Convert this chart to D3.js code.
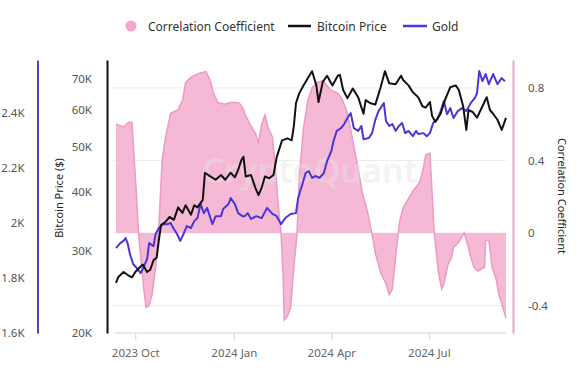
<!DOCTYPE html>
<html>
<head>
<meta charset="utf-8">
<script src="https://cdn.jsdelivr.net/npm/d3@7"></script>
<style>
  html, body { margin: 0; padding: 0; background: #fff; }
  svg { display: block; font-family: "Noto Sans", "Open Sans", sans-serif; }
</style>
</head>
<body>
<svg id="chart" width="581" height="380"></svg>
<script>
// ---------------- data ----------------
const correlation = [
  ["2023-09-13",0.60],["2023-09-20",0.585],["2023-09-25",0.61],["2023-09-28",0.61],["2023-09-29",0.50],
  ["2023-10-02",0.22],["2023-10-04",0.0],["2023-10-07",-0.19],["2023-10-09",-0.31],["2023-10-11",-0.41],
  ["2023-10-14",-0.40],["2023-10-17",-0.33],["2023-10-20",-0.19],["2023-10-23",0.03],["2023-10-26",0.40],
  ["2023-10-29",0.52],["2023-11-03",0.66],["2023-11-10",0.68],["2023-11-14",0.73],["2023-11-17",0.83],
  ["2023-11-22",0.86],["2023-11-29",0.88],["2023-12-06",0.89],["2023-12-10",0.84],["2023-12-13",0.77],
  ["2023-12-17",0.72],["2023-12-23",0.71],["2023-12-29",0.72],["2024-01-05",0.72],["2024-01-07",0.71],
  ["2024-01-10",0.68],["2024-01-11",0.66],["2024-01-16",0.60],["2024-01-21",0.55],["2024-01-24",0.50],
  ["2024-01-27",0.60],["2024-01-30",0.65],["2024-02-02",0.58],["2024-02-06",0.53],["2024-02-09",0.35],
  ["2024-02-11",0.18],["2024-02-14",0.0],["2024-02-16",-0.24],["2024-02-17",-0.48],["2024-02-20",-0.46],
  ["2024-02-23",-0.41],["2024-02-26",-0.19],["2024-02-29",0.0],["2024-03-02",0.31],["2024-03-06",0.58],
  ["2024-03-10",0.73],["2024-03-14",0.80],["2024-03-19",0.83],["2024-03-24",0.84],["2024-03-27",0.82],
  ["2024-03-31",0.79],["2024-04-07",0.77],["2024-04-11",0.74],["2024-04-16",0.66],["2024-04-21",0.51],
  ["2024-04-26",0.35],["2024-04-30",0.22],["2024-05-05",0.11],["2024-05-08",0.02],["2024-05-10",-0.04],
  ["2024-05-12",-0.11],["2024-05-17",-0.22],["2024-05-22",-0.28],["2024-05-25",-0.34],["2024-05-28",-0.31],
  ["2024-05-30",-0.19],["2024-06-02",-0.02],["2024-06-04",0.07],["2024-06-07",0.14],["2024-06-11",0.18],
  ["2024-06-16",0.23],["2024-06-20",0.26],["2024-06-23",0.29],["2024-06-26",0.36],["2024-06-28",0.43],
  ["2024-07-02",0.44],["2024-07-04",0.22],["2024-07-06",0.0],["2024-07-08",-0.11],["2024-07-10",-0.22],
  ["2024-07-13",-0.31],["2024-07-15",-0.28],["2024-07-19",-0.17],["2024-07-22",-0.14],["2024-07-24",-0.08],
  ["2024-07-29",-0.05],["2024-08-03",0.0],["2024-08-06",-0.06],["2024-08-09",-0.13],["2024-08-12",-0.19],
  ["2024-08-16",-0.21],["2024-08-19",-0.20],["2024-08-22",-0.19],["2024-08-23",-0.04],["2024-08-26",-0.04],
  ["2024-08-29",-0.19],["2024-09-02",-0.26],["2024-09-04",-0.33],["2024-09-08",-0.41],["2024-09-11",-0.47]
];

const bitcoinPrice = [
  ["2023-09-13",25600],["2023-09-15",26300],["2023-09-20",27000],["2023-09-24",26600],["2023-09-28",26300],
  ["2023-10-01",27000],["2023-10-05",27600],["2023-10-08",28000],["2023-10-12",27000],["2023-10-15",27300],
  ["2023-10-18",28600],["2023-10-21",29000],["2023-10-23",31600],["2023-10-25",34000],["2023-10-29",34500],
  ["2023-11-02",35400],["2023-11-06",34900],["2023-11-10",37100],["2023-11-14",36100],["2023-11-17",37500],
  ["2023-11-22",35800],["2023-11-25",37500],["2023-11-28",37100],["2023-12-03",38500],["2023-12-05",44000],
  ["2023-12-10",43200],["2023-12-15",42500],["2023-12-20",43500],["2023-12-24",42500],["2023-12-29",44000],
  ["2024-01-02",43000],["2024-01-05",44600],["2024-01-08",46800],["2024-01-10",47600],["2024-01-12",43200],
  ["2024-01-17",43500],["2024-01-21",40900],["2024-01-24",39400],["2024-01-27",40900],["2024-01-30",43200],
  ["2024-02-03",42800],["2024-02-07",43500],["2024-02-10",47500],["2024-02-15",51600],["2024-02-20",52100],
  ["2024-02-24",51600],["2024-02-26",55400],["2024-02-28",62000],["2024-03-02",65000],["2024-03-06",67600],
  ["2024-03-10",70000],["2024-03-14",72500],["2024-03-16",70000],["2024-03-18",67600],["2024-03-20",62300],
  ["2024-03-24",68800],["2024-03-28",70900],["2024-04-02",67600],["2024-04-07",70900],["2024-04-09",71200],
  ["2024-04-12",66100],["2024-04-16",63500],["2024-04-21",66600],["2024-04-26",63800],["2024-05-01",58800],
  ["2024-05-03",62900],["2024-05-07",62000],["2024-05-12",61500],["2024-05-17",67000],["2024-05-21",72500],
  ["2024-05-25",68300],["2024-05-31",68000],["2024-06-05",70900],["2024-06-07",69400],["2024-06-12",67600],
  ["2024-06-16",65400],["2024-06-21",63800],["2024-06-25",61000],["2024-06-28",60600],["2024-07-02",62300],
  ["2024-07-04",58200],["2024-07-07",56500],["2024-07-12",58800],["2024-07-16",62900],["2024-07-21",67000],
  ["2024-07-26",67600],["2024-07-29",66100],["2024-08-02",61000],["2024-08-05",54300],["2024-08-07",59900],
  ["2024-08-11",59300],["2024-08-15",57700],["2024-08-20",61000],["2024-08-24",63800],["2024-08-27",59900],
  ["2024-08-30",58800],["2024-09-03",57100],["2024-09-07",54300],["2024-09-11",57600]
];

const goldPrice = [
  ["2023-09-13",1909],["2023-09-17",1927],["2023-09-20",1935],["2023-09-22",1945],["2023-09-24",1924],
  ["2023-09-26",1887],["2023-09-29",1851],["2023-10-03",1833],["2023-10-06",1818],["2023-10-08",1833],
  ["2023-10-12",1869],["2023-10-14",1927],["2023-10-18",1916],["2023-10-20",1960],["2023-10-23",1982],
  ["2023-10-27",1996],["2023-10-31",1996],["2023-11-03",2000],["2023-11-06",1978],["2023-11-09",1960],
  ["2023-11-12",1935],["2023-11-15",1960],["2023-11-18",1989],["2023-11-22",1982],["2023-11-25",2007],
  ["2023-11-28",2018],["2023-12-01",2069],["2023-12-04",2036],["2023-12-07",2055],["2023-12-12",1996],
  ["2023-12-15",2025],["2023-12-20",2025],["2023-12-22",2051],["2023-12-27",2069],["2023-12-29",2091],
  ["2024-01-02",2069],["2024-01-05",2036],["2024-01-09",2025],["2024-01-11",2025],["2024-01-14",2036],
  ["2024-01-17",2015],["2024-01-22",2025],["2024-01-27",2018],["2024-02-01",2055],["2024-02-06",2033],
  ["2024-02-10",2025],["2024-02-14",1996],["2024-02-18",2018],["2024-02-23",2033],["2024-02-28",2036],
  ["2024-03-01",2091],["2024-03-05",2142],["2024-03-08",2182],["2024-03-11",2189],["2024-03-14",2164],
  ["2024-03-17",2171],["2024-03-21",2164],["2024-03-25",2182],["2024-03-28",2225],["2024-04-01",2262],
  ["2024-04-03",2298],["2024-04-06",2335],["2024-04-10",2345],["2024-04-13",2360],["2024-04-16",2382],
  ["2024-04-19",2400],["2024-04-22",2345],["2024-04-26",2335],["2024-04-29",2353],["2024-05-01",2305],
  ["2024-05-06",2309],["2024-05-09",2327],["2024-05-12",2375],["2024-05-15",2407],["2024-05-20",2436],
  ["2024-05-22",2371],["2024-05-25",2353],["2024-05-28",2360],["2024-05-31",2335],["2024-06-03",2353],
  ["2024-06-06",2364],["2024-06-09",2327],["2024-06-12",2335],["2024-06-16",2316],["2024-06-19",2335],
  ["2024-06-21",2324],["2024-06-26",2327],["2024-06-29",2316],["2024-07-02",2327],["2024-07-05",2364],
  ["2024-07-09",2378],["2024-07-12",2407],["2024-07-15",2444],["2024-07-18",2396],["2024-07-21",2418],
  ["2024-07-24",2382],["2024-07-28",2407],["2024-08-01",2418],["2024-08-05",2407],["2024-08-09",2436],
  ["2024-08-13",2455],["2024-08-15",2473],["2024-08-17",2553],["2024-08-20",2516],["2024-08-23",2542],
  ["2024-08-26",2505],["2024-08-30",2542],["2024-09-03",2505],["2024-09-07",2527],["2024-09-10",2516]
];

const xTickDates = ["2023-10-01","2024-01-01","2024-04-01","2024-07-01"];
const xTickLabels = ["2023 Oct","2024 Jan","2024 Apr","2024 Jul"];
const goldTicks = [1600, 1800, 2000, 2200, 2400];
const bitcoinTicks = [20000, 30000, 40000, 50000, 60000, 70000];
const correlationTicks = [-0.4, 0, 0.4, 0.8];
const legendLabels = ["Correlation Coefficient", "Bitcoin Price", "Gold"];

// ---------------- setup ----------------
const parse = d3.timeParse("%Y-%m-%d");
const corr = correlation.map(d => ({date: parse(d[0]), value: d[1]}));
const btc = bitcoinPrice.map(d => ({date: parse(d[0]), value: d[1]}));
const gold = goldPrice.map(d => ({date: parse(d[0]), value: d[1]}));

const svg = d3.select("#chart");
const plotTop = 60, plotBottom = 333, plotLeft = 116, plotRight = 506;

const colors = {
  pinkFill: "#f5b9d6", pinkLine: "#eb9bc4", pinkAxis: "#e8a6cb",
  btc: "#111111", gold: "#4a36d8", goldAxis: "#5a40bd",
  tick: "#555", grid: "#ececec"
};

const x = d3.scaleTime()
  .domain([parse("2023-09-13"), parse("2024-09-11")])
  .range([plotLeft, plotRight]);
const yCorr = d3.scaleLinear().domain([-0.552, 0.954]).range([plotBottom, plotTop]);
const yBtc = d3.scaleLog().domain([20000, 76600]).range([plotBottom, plotTop]);
const yGold = d3.scaleLinear().domain([1600, 2593]).range([plotBottom, plotTop]);

// gridlines
svg.append("g").selectAll("line").data(correlationTicks).join("line")
  .attr("x1", 113).attr("x2", plotRight)
  .attr("y1", d => yCorr(d)).attr("y2", d => yCorr(d))
  .attr("stroke", colors.grid).attr("stroke-width", 1);

// correlation area
svg.append("path").datum(corr)
  .attr("fill", colors.pinkFill)
  .attr("d", d3.area().x(d => x(d.date)).y0(yCorr(0)).y1(d => yCorr(d.value)));
svg.append("path").datum(corr)
  .attr("fill", "none").attr("stroke", colors.pinkLine).attr("stroke-width", 1.5)
  .attr("d", d3.line().x(d => x(d.date)).y(d => yCorr(d.value)));

// watermark (over the area, faint)
svg.append("text").attr("x", 310).attr("y", 183).attr("text-anchor", "middle")
  .attr("font-size", 34).attr("font-weight", 600).attr("fill", "#e4e4e4").attr("fill-opacity", 0.45)
  .text("CryptoQuant");

// x axis
const xAxis = svg.append("g").attr("transform", `translate(0,${plotBottom})`)
  .call(d3.axisBottom(x).tickValues(xTickDates.map(parse)).tickSize(7).tickSizeOuter(0).tickPadding(9)
    .tickFormat((d, i) => xTickLabels[i]));
xAxis.select(".domain").attr("stroke", "#d4d4d4").attr("d", `M${plotLeft - 1},0H${plotRight}`);
xAxis.selectAll(".tick line").attr("stroke", "#d4d4d4");
xAxis.selectAll("text").attr("fill", "#666").attr("font-size", 11.5).attr("font-family", "Noto Sans, sans-serif");

// gold line
svg.append("path").datum(gold)
  .attr("fill", "none").attr("stroke", colors.gold).attr("stroke-width", 2).attr("stroke-linejoin", "round")
  .attr("d", d3.line().x(d => x(d.date)).y(d => yGold(d.value)));

// bitcoin line
svg.append("path").datum(btc)
  .attr("fill", "none").attr("stroke", colors.btc).attr("stroke-width", 2).attr("stroke-linejoin", "round")
  .attr("d", d3.line().x(d => x(d.date)).y(d => yBtc(d.value)));

// gold axis
const gAxis = svg.append("g").attr("transform", "translate(37.5,0)")
  .call(d3.axisLeft(yGold).tickValues(goldTicks).tickSize(0).tickPadding(13)
    .tickFormat(d => (d / 1000) + "K"));
gAxis.select(".domain").attr("stroke", colors.goldAxis).attr("stroke-width", 2);
gAxis.selectAll("text").attr("fill", colors.tick).attr("font-size", 11.5).attr("font-family", "Noto Sans, sans-serif");

// bitcoin axis
const bAxis = svg.append("g").attr("transform", "translate(107,0)")
  .call(d3.axisLeft(yBtc).tickValues(bitcoinTicks).tickSize(0).tickPadding(15)
    .tickFormat(d => (d / 1000) + "K"));
bAxis.select(".domain").attr("stroke", colors.btc).attr("stroke-width", 2);
bAxis.selectAll("text").attr("fill", colors.tick).attr("font-size", 11.5).attr("font-family", "Noto Sans, sans-serif");

// correlation axis
const cAxis = svg.append("g").attr("transform", "translate(513,0)")
  .call(d3.axisRight(yCorr).tickValues(correlationTicks).tickSize(0).tickPadding(15)
    .tickFormat(d => d === 0 ? "0" : String(d)));
cAxis.select(".domain").attr("stroke", colors.pinkAxis).attr("stroke-width", 2);
cAxis.selectAll("text").attr("fill", colors.tick).attr("font-size", 11.5).attr("font-family", "Noto Sans, sans-serif");

// axis titles
svg.append("text").attr("transform", "translate(63,198) rotate(-90)")
  .attr("text-anchor", "middle").attr("font-size", 11).attr("fill", "#222").text("Bitcoin Price ($)");
svg.append("text").attr("transform", "translate(558,196) rotate(90)")
  .attr("text-anchor", "middle").attr("font-size", 11).attr("fill", "#222").text("Correlation Coefficient");

// legend
const lg = svg.append("g").attr("font-size", 12).attr("fill", "#333");
lg.append("circle").attr("cx", 131).attr("cy", 26).attr("r", 5.5).attr("fill", "#f0a8cd");
lg.append("text").attr("x", 148).attr("y", 30.5).text(legendLabels[0]);
lg.append("line").attr("x1", 288).attr("x2", 311).attr("y1", 26).attr("y2", 26)
  .attr("stroke", colors.btc).attr("stroke-width", 2.5);
lg.append("text").attr("x", 317).attr("y", 30.5).text(legendLabels[1]);
lg.append("line").attr("x1", 403).attr("x2", 427).attr("y1", 26).attr("y2", 26)
  .attr("stroke", colors.gold).attr("stroke-width", 2.5);
lg.append("text").attr("x", 432).attr("y", 30.5).text(legendLabels[2]);
</script>
</body>
</html>
